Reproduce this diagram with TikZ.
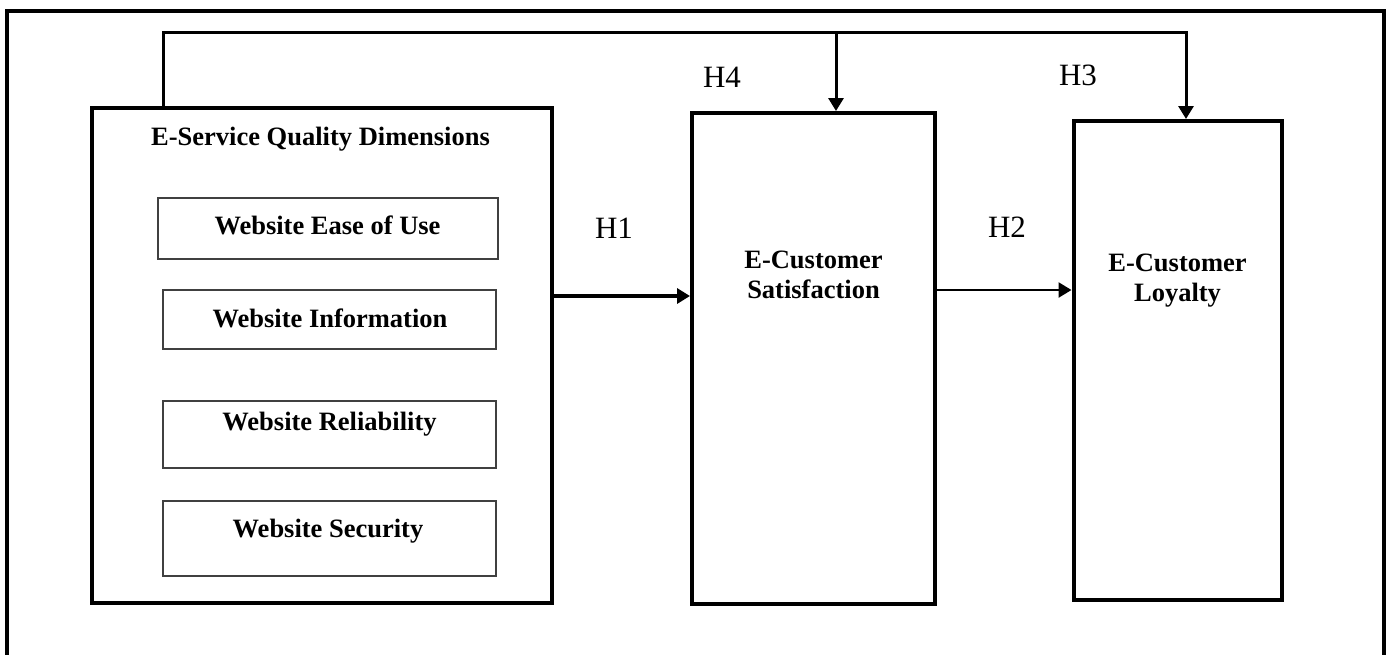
\documentclass[tikz,border=0pt]{standalone}
\usepackage{fontspec}
\setmainfont{Liberation Serif}
\usetikzlibrary{arrows.meta}
\tikzset{
    bigbox/.style={draw, line width=4pt, inner sep=0pt},
    dimbox/.style={draw=black!75, line width=1.5pt, inner sep=0pt},
    boldtext/.style={font=\fontsize{26.5}{30}\selectfont\bfseries, align=center, inner sep=0pt},
    hyptext/.style={font=\fontsize{31}{36}\selectfont, inner sep=0pt, anchor=base},
    link/.style={line width=3pt, -{Triangle[length=13pt,width=15pt]}}
}

\begin{document}
\begin{tikzpicture}[x=1pt, y=-1pt]
    \useasboundingbox (0,0) rectangle (1388,654);
    \draw[line width=4pt] (7,660) -- (7,11) -- (1384,11) -- (1384,660);
    \node[bigbox, minimum width=460pt, minimum height=495pt] (esq) at (322,355.5) {};
    \node[bigbox, minimum width=243pt, minimum height=491pt] (sat) at (813.5,358.5) {};
    \node[bigbox, minimum width=208pt, minimum height=479pt] (loy) at (1177.5,360.5) {};
    \node[dimbox, minimum width=340pt, minimum height=61pt] (ease) at (328,228.5) {};
    \node[dimbox, minimum width=333pt, minimum height=59pt] (info) at (329.5,319.5) {};
    \node[dimbox, minimum width=333pt, minimum height=67pt] (rel) at (329.5,434.5) {};
    \node[dimbox, minimum width=333pt, minimum height=75pt] (sec) at (329.5,538.5) {};
    \node[boldtext, anchor=base] (esqtext) at (320.5,145) {E-Service Quality Dimensions};
    \node[boldtext, anchor=base] (easetext) at (327.5,234) {Website Ease of Use};
    \node[boldtext, anchor=base] (infotext) at (330,327) {Website Information};
    \node[boldtext, anchor=base] (reltext) at (329.5,430) {Website Reliability};
    \node[boldtext, anchor=base] (sectext) at (328,537) {Website Security};
    \node[boldtext] (sattext) at (813.5,275) {E-Customer\\Satisfaction};
    \node[boldtext] (loytext) at (1177.5,281) {E-Customer\\Loyalty};
    \node[hyptext] (h1) at (614,238) {H1};
    \node[hyptext] (h2) at (1007,237) {H2};
    \node[hyptext] (h3) at (1078,85) {H3};
    \node[hyptext] (h4) at (722,87) {H4};
    \coordinate (topL) at (163,32);
    \coordinate (topM) at (836,32);
    \coordinate (topR) at (1186,32);
    \coordinate (h1y) at (0,296);
    \coordinate (h2y) at (0,290);
    \draw[link] (esq.north -| topL) -- (topL) -- (topR) -- (loy.north -| topR);
    \draw[link] (topM) -- (sat.north -| topM);
    \draw[link, line width=4pt] (esq.east |- h1y) -- (sat.west |- h1y);
    \draw[link, line width=2.5pt] (sat.east |- h2y) -- (loy.west |- h2y);
\end{tikzpicture}
\end{document}
